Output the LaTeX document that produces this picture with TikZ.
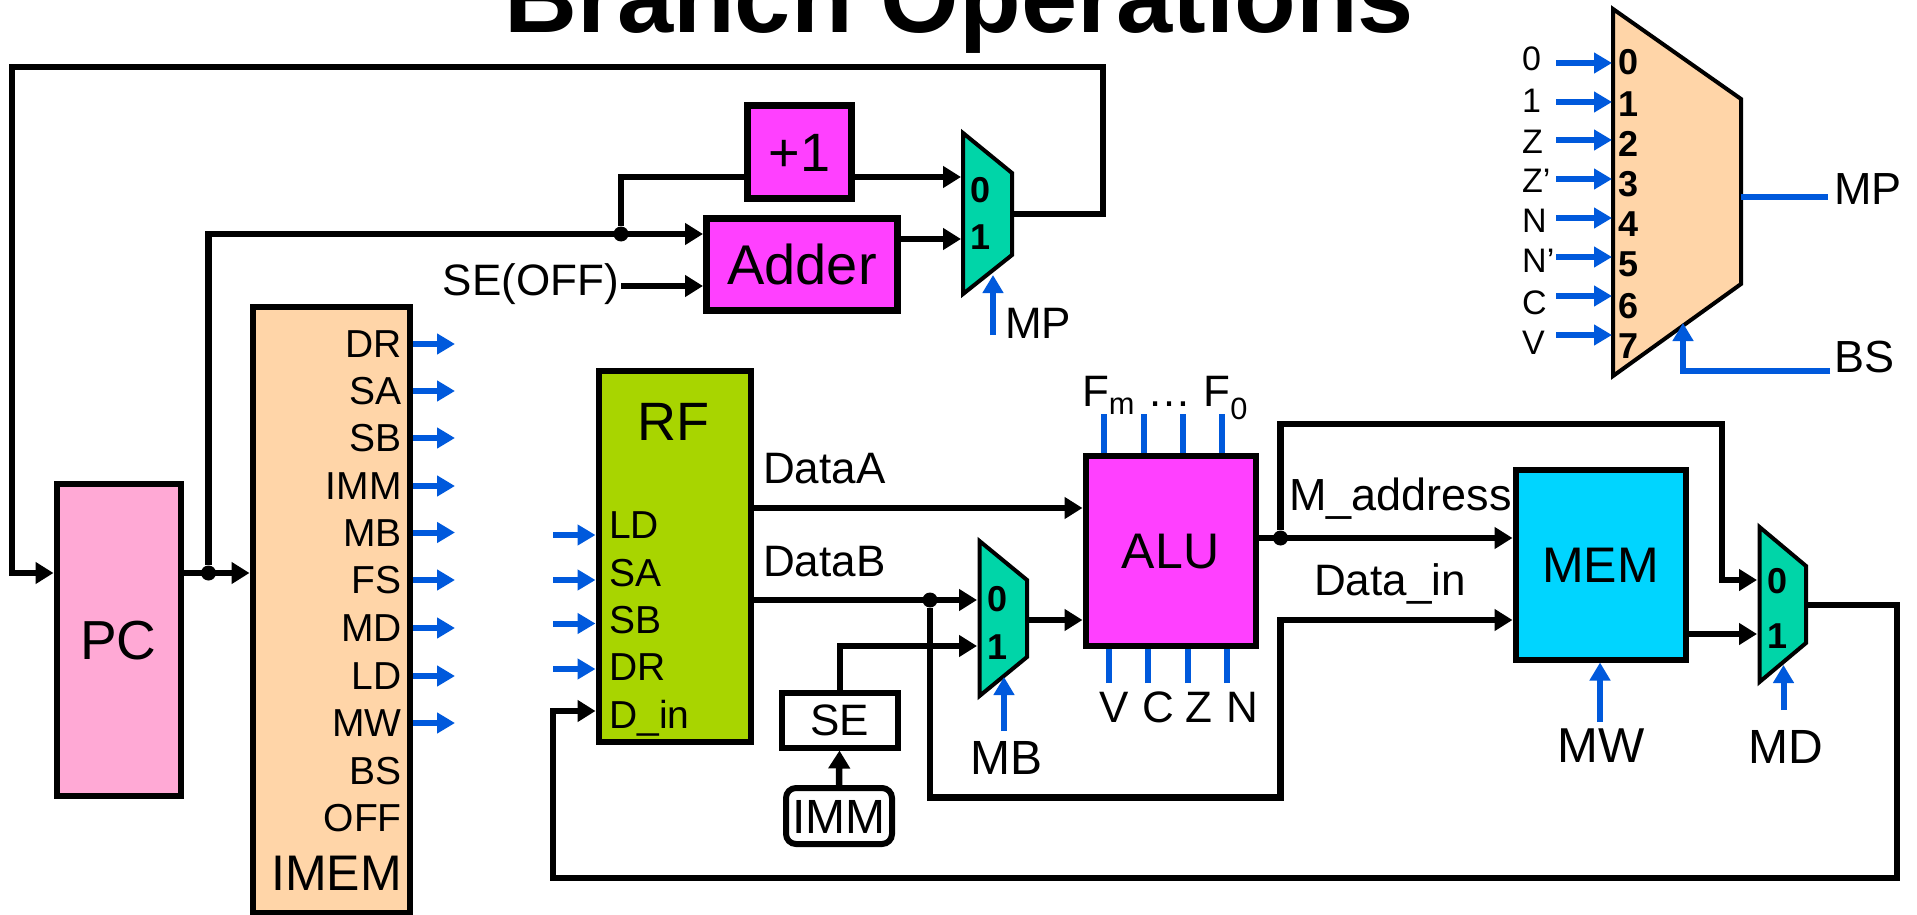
\documentclass[tikz,border=0pt]{standalone}
\usepackage{fontspec}
\setmainfont{Liberation Sans}
\usetikzlibrary{arrows.meta}
\definecolor{imem orange}{HTML}{FFD5A8}
\definecolor{pc pink}{HTML}{FFA9D5}
\definecolor{rf green}{HTML}{A8D500}
\definecolor{alu magenta}{HTML}{FF40FF}
\definecolor{mem cyan}{HTML}{00D5FF}
\definecolor{mux teal}{HTML}{00D5A8}
\definecolor{ctl blue}{HTML}{0059DC}
\tikzset{
	box/.style={draw=black, line width=6pt, inner sep=0pt},
	txt/.style={font=\fontsize{#1}{#1}\selectfont, inner sep=0pt, text height=0.716*#1 pt, text depth=0pt},
	bold/.style={font=\fontsize{#1}{#1}\selectfont\bfseries, inner sep=0pt, text height=0.716*#1 pt, text depth=0pt},
	wire/.style={line width=6.5pt, draw=black},
	bus/.style={wire, -{Triangle[length=18pt, width=21pt]}},
	ctl/.style={line width=6pt, draw=ctl blue},
	ctlarrow/.style={ctl, -{Triangle[length=18pt, width=20pt]}},
	muxshape/.style={draw=black, line width=4pt, line join=miter},
	dot/.style={circle, fill=black, inner sep=0pt, minimum size=15pt}
}
\begin{document}
\begin{tikzpicture}[x=1pt, y=-1pt]
	\useasboundingbox (0, 0) rectangle (1917, 915);
	% title
	\node[anchor=base, inner sep=0pt, font=\fontsize{101}{101}\selectfont\bfseries] (title) at (959.5, 33) {Branch Operations};
	% blocks
	\node[box, fill=pc pink, minimum width=124, minimum height=312] (pc) at (118.5, 639.5) {};
	\node[txt=55] (pclabel) at (pc) {PC};
	\node[box, fill=imem orange, minimum width=157, minimum height=606] (imem) at (331, 610) {};
	\node[box, fill=rf green, minimum width=152, minimum height=371] (rf) at (674.5, 556.5) {};
	\node[txt=54] (rflabel) at (673, 421) {RF};
	\node[box, fill=alu magenta, line width=7pt, minimum width=104, minimum height=92] (inc) at (799.5, 152) {};
	\node[txt=54] (inclabel) at (inc) {+1};
	\node[box, fill=alu magenta, line width=7pt, minimum width=191, minimum height=92] (adder) at (802, 264) {};
	\node[txt=56] (adderlabel) at (adder) {Adder};
	\node[box, fill=alu magenta, minimum width=170, minimum height=190] (alu) at (1170.5, 550.5) {};
	\node[txt=50] (alulabel) at (alu) {ALU};
	\node[box, fill=mem cyan, minimum width=170, minimum height=190] (mem) at (1600.5, 564.5) {};
	\node[txt=50] (memlabel) at (mem) {MEM};
	\node[box, fill=white, minimum width=116, minimum height=55] (se) at (839.5, 720) {};
	\node[txt=44] (selabel) at (se) {SE};
	\node[box, fill=white, rounded corners=10pt, minimum width=106, minimum height=56] (imm) at (839, 816) {};
	\node[txt=48] (immlabel) at (imm) {IMM};
	% muxes
	\filldraw[muxshape, fill=mux teal] (963, 133) -- (1012, 173) -- (1012, 255) -- (963, 294) -- cycle;
	\filldraw[muxshape, fill=mux teal] (979.5, 541) -- (1027, 580) -- (1027, 657) -- (979.5, 696) -- cycle;
	\filldraw[muxshape, fill=mux teal] (1759.5, 527) -- (1806, 566) -- (1806, 643) -- (1759.5, 682) -- cycle;
	\node[bold=36] (mp0) at (980, 190) {0};
	\node[bold=36] (mp1) at (980, 237) {1};
	\node[bold=36] (mb0) at (997, 599) {0};
	\node[bold=36] (mb1) at (997, 647) {1};
	\node[bold=36] (md0) at (1777, 581) {0};
	\node[bold=36] (md1) at (1777, 636) {1};
	% imem fields
	\foreach \name/\ypos in {DR/344, SA/391, SB/438, IMM/486, MB/532.5, FS/580, MD/628, LD/676, MW/723, BS/771, OFF/818}
		\node[txt=39, anchor=east] (imem\name) at (402, \ypos) {\name};
	\node[txt=50, anchor=east] (imemlabel) at (402, 872.5) {IMEM};
	\foreach \name in {DR, SA, SB, IMM, MB, FS, MD, LD, MW} {
		\coordinate (out\name) at (imem.east |- imem\name);
		\coordinate (end\name) at (455, 0 |- imem\name);
		\draw[ctlarrow] (out\name) -- (end\name);
	}
	% rf fields
	\node[txt=39, anchor=west] (rfLD) at (609, 525) {LD};
	\node[txt=39, anchor=west] (rfSA) at (609, 572.5) {SA};
	\node[txt=39, anchor=west] (rfSB) at (609, 620) {SB};
	\node[txt=39, anchor=west] (rfDR) at (609, 667) {DR};
	\node[txt=39, anchor=west] (rfDin) at (609, 714.5) {D\_in};
	\foreach \name/\ypos in {LD/535, SA/580, SB/623.5, DR/669} {
		\coordinate (start\name) at (553, \ypos);
		\draw[ctlarrow] (start\name) -- (rf.west |- start\name);
	}
	% pc and imem
	\coordinate (pcloop) at (12, 573);
	\node[dot] (pcdot) at (208.5, 573) {};
	\coordinate (addrtop) at (208.5, 234);
	\node[dot] (adddot) at (621, 234) {};
	\coordinate (inctop) at (621, 177);
	\draw[bus] (pc.east |- pcdot) -- (imem.west |- pcdot);
	\draw[bus] (pcdot) -- (addrtop) -- (adder.west |- addrtop);
	\draw[wire] (adddot) -- (inctop) -- (inc.west |- inctop);
	% pc next
	\coordinate (mpin0) at (961, 177);
	\coordinate (mpin1) at (961, 239);
	\coordinate (mpout) at (1012, 214);
	\coordinate (mpright) at (1103, 214);
	\coordinate (mptop) at (1103, 67);
	\coordinate (pctop) at (12, 67);
	\draw[bus] (inc.east |- mpin0) -- (mpin0);
	\draw[bus] (adder.east |- mpin1) -- (mpin1);
	\draw[bus] (mpout) -- (mpright) -- (mptop) -- (pctop) -- (pcloop) -- (pc.west |- pcloop);
	\node[txt=44, anchor=east] (seoff) at (619, 280) {SE(OFF)};
	\coordinate (seoffin) at (621, 286);
	\draw[bus] (seoffin) -- (adder.west |- seoffin);
	% control of mp
	\node[txt=44, anchor=west] (mplabel) at (1005, 323) {MP};
	\coordinate (mpctl) at (993, 335);
	\coordinate (mptip) at (993, 275);
	\draw[ctlarrow] (mpctl) -- (mptip);
	% datapath
	\node[txt=44, anchor=west] (dataa) at (763, 468) {DataA};
	\node[txt=44, anchor=west] (datab) at (763, 561) {DataB};
	\node[txt=45, anchor=west] (maddr) at (1289, 494) {M\_address};
	\node[txt=44, anchor=west] (datain) at (1314, 580) {Data\_in};
	\coordinate (rfa) at (751, 508);
	\draw[bus] (rf.east |- rfa) -- (alu.west |- rfa);
	\coordinate (mbin0) at (977, 600);
	\coordinate (mbin1) at (977, 646);
	\node[dot] (bdot) at (930, 600) {};
	\draw[bus] (rf.east |- mbin0) -- (mbin0);
	\coordinate (bdown) at (930, 797.5);
	\coordinate (bright) at (1280.5, 797.5);
	\coordinate (bup) at (1280.5, 620);
	\draw[bus] (bdot) -- (bdown) -- (bright) -- (bup) -- (mem.west |- bup);
	\coordinate (seturn) at (840, 646);
	\draw[bus] (se.north -| seturn) -- (seturn) -- (mbin1);
	\draw[bus] (imm.north) -- (se.south);
	\coordinate (mbout) at (1027, 620);
	\draw[bus] (mbout) -- (alu.west |- mbout);
	% memory and write back
	\node[dot] (aludot) at (1280.5, 538) {};
	\draw[bus] (alu.east |- aludot) -- (mem.west |- aludot);
	\coordinate (mdin0) at (1757, 580);
	\coordinate (mdin1) at (1757, 634);
	\coordinate (altop) at (1280.5, 424);
	\coordinate (alright) at (1722, 424);
	\coordinate (aldown) at (1722, 580);
	\draw[bus] (aludot) -- (altop) -- (alright) -- (aldown) -- (mdin0);
	\draw[bus] (mem.east |- mdin1) -- (mdin1);
	\coordinate (mdout) at (1806, 605);
	\coordinate (wbright) at (1897, 605);
	\coordinate (wbbottom) at (1897, 878);
	\coordinate (wbleft) at (553, 878);
	\coordinate (wbup) at (553, 711);
	\draw[bus] (mdout) -- (wbright) -- (wbbottom) -- (wbleft) -- (wbup) -- (rf.west |- wbup);
	% alu controls
	\foreach \num/\xpos in {1/1104, 2/1144, 3/1183, 4/1222} {
		\coordinate (ftop\num) at (\xpos, 414);
		\draw[ctl] (ftop\num) -- (ftop\num |- alu.north);
	}
	\foreach \num/\xpos in {1/1109, 2/1148, 3/1187.5, 4/1226.5} {
		\coordinate (fbot\num) at (\xpos, 683);
		\draw[ctl] (fbot\num) -- (fbot\num |- alu.south);
	}
	\node[txt=44] (fslabel) at (1165, 391) {F\textsubscript{m} … F\textsubscript{0}};
	\node[txt=44] (vlabel) at (1114, 707) {V};
	\node[txt=44] (clabel) at (1158, 707) {C};
	\node[txt=44] (zlabel) at (1199, 707) {Z};
	\node[txt=44] (nlabel) at (1242, 707) {N};
	% mux and memory controls
	\coordinate (mbctl) at (1004, 731);
	\coordinate (mbtip) at (1004, 677);
	\draw[ctlarrow] (mbctl) -- (mbtip);
	\node[txt=48] (mblabel) at (1006.5, 757) {MB};
	\coordinate (mwctl) at (1600, 722);
	\draw[ctlarrow] (mwctl) -- (mem.south -| mwctl);
	\node[txt=49] (mwlabel) at (1601, 745) {MW};
	\coordinate (mdctl) at (1783.5, 710);
	\coordinate (mdtip) at (1783.5, 665);
	\draw[ctlarrow] (mdctl) -- (mdtip);
	\node[txt=48] (mdlabel) at (1786, 746) {MD};
	% branch select mux
	\filldraw[muxshape, fill=imem orange] (1613, 9) -- (1741, 99) -- (1741, 284) -- (1613, 376) -- cycle;
	\foreach \num/\ypos in {0/62, 1/104, 2/144, 3/184, 4/224, 5/264, 6/306, 7/346}
		\node[bold=36] (bs\num) at (1628, \ypos) {\num};
	\foreach \name/\ypos/\arrowy in {0/58/63, 1/100/102, Z/141/140, Z’/180/179, N/220/218, N’/260/257, C/302/296, V/342/335} {
		\node[txt=34, anchor=west] (flag\ypos) at (1522, \ypos) {\name};
		\coordinate (flagout\ypos) at (1556, \arrowy);
		\coordinate (flagtip\ypos) at (1612, \arrowy);
		\draw[ctlarrow] (flagout\ypos) -- (flagtip\ypos);
	}
	\coordinate (bsout) at (1741, 197);
	\node[txt=45, anchor=west] (bsmp) at (1834, 188) {MP};
	\coordinate (bsend) at (1828, 197);
	\draw[ctl] (bsout) -- (bsend);
	\node[txt=45, anchor=west] (bslabel) at (1834, 356) {BS};
	\coordinate (bsstart) at (1830, 371);
	\coordinate (bscorner) at (1683, 371);
	\coordinate (bstip) at (1683, 323);
	\draw[ctlarrow] (bsstart) -- (bscorner) -- (bstip);
\end{tikzpicture}
\end{document}
